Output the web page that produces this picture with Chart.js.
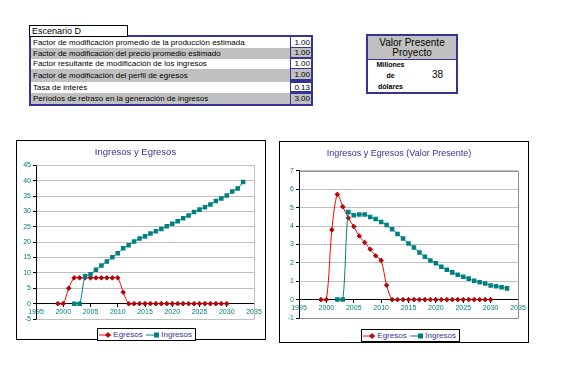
<!DOCTYPE html>
<html>
<head>
<meta charset="utf-8">
<script src="https://cdn.jsdelivr.net/npm/chart.js@4.4.0/dist/chart.umd.min.js"></script>
<style>
    body {
        margin: 0;
        width: 564px;
        height: 369px;
        position: relative;
        overflow: hidden;
        background: #fff;
        font-family: "Liberation Sans", Arial, sans-serif;
        color: #000;
    }
    .abs { position: absolute; box-sizing: border-box; }

    /* spreadsheet block */
    #escenario {
        left: 29px; top: 25px; width: 99px; height: 12px;
        border: 1px solid #000; background: #fff; z-index: 2;
        font-size: 9px; line-height: 10px; padding-left: 2px;
    }
    #params {
        left: 29px; top: 35px; width: 284px; height: 71px;
        background: #333399;
    }
    .row {
        position: absolute; left: 2px; width: 257px;
        font-size: 8px; padding-left: 2px; white-space: nowrap;
    }
    .cell {
        position: absolute; left: 262px; width: 19px;
        font-size: 8px; text-align: right; padding-right: 1px;
    }
    .white { background: #fff; }
    .gray { background: #c0c0c0; }

    #vp {
        left: 366px; top: 34px; width: 92px; height: 60px;
        border: 2px solid #333399; background: #fff;
    }
    #vp-head {
        position: absolute; left: 0; top: 0; width: 88px; height: 24px;
        background: #c0c0c0; border-bottom: 1px solid #333399;
        text-align: center; font-size: 10px; line-height: 10px; padding-top: 2px;
        box-sizing: border-box;
    }
    #vp-units {
        position: absolute; left: 4px; top: 23px; width: 37px;
        text-align: center; font-size: 7px; font-weight: bold; line-height: 11px;
    }
    #vp-value {
        position: absolute; left: 64px; top: 34px; font-size: 10px; line-height: 10px;
    }

    /* chart boxes */
    .chart-box { border: 1px solid #000; background: #fff; }
    .chart-box canvas { position: absolute; left: 0; top: 0; }
    .legend {
        position: absolute; border: 1px solid #000; background: #fff;
        height: 11px; width: 96px;
        display: flex; align-items: center; padding-left: 1px;
        font-size: 8px; color: #333399; white-space: nowrap;
    }
    .legend svg { display: block; }
    .legend span { margin: 0 3px 0 2px; }
</style>
</head>
<body>

<div id="escenario" class="abs">Escenario D</div>

<div id="params" class="abs">
    <div class="row white" style="top:2px;height:11px;line-height:11px">Factor de modificación promedio de la producción estimada</div>
    <div class="row gray" style="top:13px;height:11px;line-height:11px">Factor de modificación del precio promedio estimado</div>
    <div class="row white" style="top:24px;height:10px;line-height:10px">Factor resultante de modificación de los ingresos</div>
    <div class="row gray" style="top:34px;height:13px;line-height:13px">Factor de modificación del perfil de egresos</div>
    <div class="row white" style="top:47px;height:11px;line-height:11px">Tasa de interés</div>
    <div class="row gray" style="top:58px;height:11px;line-height:11px">Períodos de retraso en la generación de ingresos</div>

    <div class="cell white" style="top:2px;height:10px;line-height:11px">1.00</div>
    <div class="cell gray" style="top:13px;height:9px;line-height:10px">1.00</div>
    <div class="cell white" style="top:24px;height:9px;line-height:9px">1.00</div>
    <div class="cell gray" style="top:34px;height:10px;line-height:12px">1.00</div>
    <div class="cell white" style="top:48px;height:8px;line-height:9px">0.13</div>
    <div class="cell gray" style="top:59px;height:10px;line-height:10px">3.00</div>
</div>

<div id="vp" class="abs">
    <div id="vp-head">Valor Presente<br>Proyecto</div>
    <div id="vp-units">Millones<br>de<br>dólares</div>
    <div id="vp-value">38</div>
</div>

<div class="abs chart-box" style="left:16px;top:140px;width:250px;height:200px">
    <canvas id="chart-total" width="248" height="198"></canvas>
    <div class="legend" style="left:80px;top:187px">
        <svg width="18" height="8"><line x1="0" y1="4" x2="18" y2="4" stroke="#ff0000" stroke-width="1"/><polygon points="9,1.5 11.5,4 9,6.5 6.5,4" fill="#cc0000" stroke="#800000" stroke-width="0.7"/></svg><span>Egresos</span>
        <svg width="20" height="8"><line x1="0" y1="4" x2="20" y2="4" stroke="#008080" stroke-width="1"/><rect x="8" y="1.5" width="5" height="5" fill="#008080"/></svg><span>Ingresos</span>
    </div>
</div>

<div class="abs chart-box" style="left:279px;top:141px;width:250px;height:202px">
    <canvas id="chart-vp" width="248" height="200"></canvas>
    <div class="legend" style="left:81px;top:187px">
        <svg width="18" height="8"><line x1="0" y1="4" x2="18" y2="4" stroke="#ff0000" stroke-width="1"/><polygon points="9,1.5 11.5,4 9,6.5 6.5,4" fill="#cc0000" stroke="#800000" stroke-width="0.7"/></svg><span>Egresos</span>
        <svg width="20" height="8"><line x1="0" y1="4" x2="20" y2="4" stroke="#008080" stroke-width="1"/><rect x="8" y="1.5" width="5" height="5" fill="#008080"/></svg><span>Ingresos</span>
    </div>
</div>

<script>
/**
 * Ingresos y Egresos - two Excel style line charts
 * Values (millones de dólares)
 */

// Years of each series
const egresosYears = [1999, 2000, 2001, 2002, 2003, 2004, 2005, 2006, 2007, 2008,
    2009, 2010, 2011, 2012, 2013, 2014, 2015, 2016, 2017, 2018, 2019, 2020,
    2021, 2022, 2023, 2024, 2025, 2026, 2027, 2028, 2029, 2030];
const ingresosYears = [2002, 2003, 2004, 2005, 2006, 2007, 2008, 2009, 2010, 2011,
    2012, 2013, 2014, 2015, 2016, 2017, 2018, 2019, 2020, 2021, 2022, 2023,
    2024, 2025, 2026, 2027, 2028, 2029, 2030, 2031, 2032, 2033];

// Nominal values
const egresos = [0, 0, 5.0, 8.4, 8.4, 8.4, 8.4, 8.4, 8.4, 8.4, 8.4, 8.4, 3.7,
    0, 0, 0, 0, 0, 0, 0, 0, 0, 0, 0, 0, 0, 0, 0, 0, 0, 0, 0];
const ingresos = [0, 0, 8.9, 9.6, 11.0, 12.4, 13.7, 15.1, 16.4, 18.0, 19.0, 20.2,
    21.2, 21.9, 22.8, 23.6, 24.3, 25.2, 26.0, 26.8, 27.8, 28.7,
    29.8, 30.6, 31.4, 32.3, 33.4, 34.2, 35.2, 36.5, 37.5, 39.6];

// Present values
const egresosVP = [0, 0, 3.79, 5.72, 5.05, 4.44, 3.97, 3.46, 3.10, 2.74, 2.38, 2.13, 0.78,
    0, 0, 0, 0, 0, 0, 0, 0, 0, 0, 0, 0, 0, 0, 0, 0, 0, 0, 0];
const ingresosVP = [0, 0, 4.76, 4.58, 4.62, 4.62, 4.49, 4.38, 4.22, 4.06,
    3.82, 3.57, 3.32, 3.05, 2.83, 2.56, 2.33, 2.13,
    1.97, 1.79, 1.62, 1.48, 1.35, 1.24, 1.14, 1.03, 0.94, 0.88, 0.77, 0.72, 0.67, 0.61];

// Tick labels
const xTicks = [1995, 2000, 2005, 2010, 2015, 2020, 2025, 2030, 2035];
const yTicksTotal = [-5, 0, 5, 10, 15, 20, 25, 30, 35, 40, 45];
const yTicksVP = [-1, 0, 1, 2, 3, 4, 5, 6, 7];

const TICK_COLOR = '#008080';
const TITLE_COLOR = '#333399';
const FONT = '"Liberation Sans", Arial, sans-serif';

/**
 * Gray plot area frame (top, right, bottom) like Excel
 */
const plotFrame = {
    id: 'plotFrame',
    beforeDatasetsDraw(chart, args, opts) {
        const { ctx, chartArea } = chart;
        const l = Math.round(chartArea.left) + 0.5;
        const r = Math.round(chartArea.right) + 0.5;
        const t = Math.round(chartArea.top) + 0.5;
        const b = Math.round(chartArea.bottom) + 0.5;
        ctx.save();
        ctx.strokeStyle = opts.color || '#c0c0c0';
        ctx.lineWidth = 1;
        ctx.beginPath();
        ctx.moveTo(l, t);
        ctx.lineTo(r, t);
        ctx.lineTo(r, b);
        ctx.lineTo(l, b);
        ctx.stroke();
        ctx.restore();
    }
};

function toPoints(years, values) {
    return years.map((yr, i) => ({ x: yr, y: values[i] }));
}

function buildDatasets(egr, ing) {
    return [{
        label: 'Egresos',
        data: toPoints(egresosYears, egr),
        borderColor: '#ff0000',
        borderWidth: 1,
        pointStyle: 'rectRot',
        pointRadius: 2.3,
        pointBackgroundColor: '#cc0000',
        pointBorderColor: '#800000',
        pointBorderWidth: 0.8,
        tension: 0.3,
        order: 1
    }, {
        label: 'Ingresos',
        data: toPoints(ingresosYears, ing),
        borderColor: '#008080',
        borderWidth: 1,
        pointStyle: 'rect',
        pointRadius: 3.2,
        pointBackgroundColor: '#008080',
        pointBorderColor: '#008080',
        pointBorderWidth: 0,
        tension: 0.3,
        order: 0
    }];
}

/**
 * Create one chart
 */
function createChart(canvasId, opts) {
    const ctx = document.getElementById(canvasId).getContext('2d');
    return new Chart(ctx, {
        type: 'line',
        data: { datasets: buildDatasets(opts.egr, opts.ing) },
        options: {
            responsive: false,
            animation: false,
            layout: { padding: opts.padding },
            plugins: {
                legend: { display: false },
                tooltip: { enabled: false },
                title: {
                    display: true,
                    text: opts.title,
                    color: TITLE_COLOR,
                    font: { family: FONT, size: opts.titleSize, weight: 'normal' },
                    padding: opts.titlePadding
                },
                plotFrame: { color: opts.frameColor }
            },
            scales: {
                x: {
                    type: 'linear',
                    position: { y: 0 },
                    min: xTicks[0],
                    max: xTicks[xTicks.length - 1],
                    afterBuildTicks: scale => {
                        scale.ticks = xTicks.map(v => ({ value: v }));
                    },
                    ticks: {
                        autoSkip: false,
                        maxRotation: 0,
                        padding: 1,
                        color: TICK_COLOR,
                        font: { family: FONT, size: 7 },
                        callback: v => String(v)
                    },
                    grid: {
                        drawOnChartArea: false,
                        tickLength: 3,
                        tickColor: '#000'
                    },
                    border: { color: '#000', width: 1 }
                },
                y: {
                    min: opts.yTicks[0],
                    max: opts.yTicks[opts.yTicks.length - 1],
                    afterBuildTicks: scale => {
                        scale.ticks = opts.yTicks.map(v => ({ value: v }));
                    },
                    afterFit: scale => {
                        scale.width = 19;
                    },
                    ticks: {
                        padding: 2,
                        color: TICK_COLOR,
                        font: { family: FONT, size: 7 },
                        callback: v => String(v)
                    },
                    grid: {
                        color: '#c0c0c0',
                        tickColor: '#000',
                        tickLength: 3
                    },
                    border: { color: '#000', width: 1 }
                }
            }
        },
        plugins: [plotFrame]
    });
}

createChart('chart-total', {
    egr: egresos,
    ing: ingresos,
    yTicks: yTicksTotal,
    title: 'Ingresos y Egresos',
    titleSize: 9.5,
    titlePadding: { top: 6, bottom: 7 },
    padding: { left: 0, right: 11, top: 0, bottom: 20 },
    frameColor: '#c0c0c0'
});

createChart('chart-vp', {
    egr: egresosVP,
    ing: ingresosVP,
    yTicks: yTicksVP,
    title: 'Ingresos y Egresos (Valor Presente)',
    titleSize: 9,
    titlePadding: { top: 6, bottom: 12 },
    padding: { left: 0, right: 10, top: 0, bottom: 24 },
    frameColor: '#909090'
});
</script>
</body>
</html>
